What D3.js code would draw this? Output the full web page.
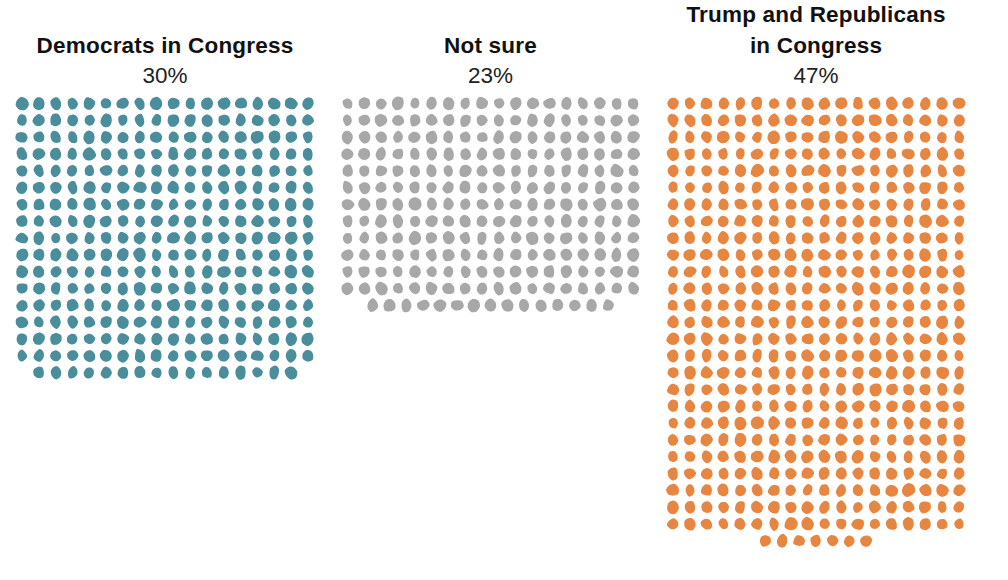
<!DOCTYPE html>
<html>
<head>
<meta charset="utf-8">
<script src="https://cdn.jsdelivr.net/npm/d3@7"></script>
<style>
  body { margin: 0; background: #fff; }
  svg { display: block; }
</style>
</head>
<body>
<svg id="chart" width="1008" height="580"></svg>
<script>
// answers, one dot per respondent
const groups = ["Democrats in Congress", "Not sure", "Trump and Republicans in Congress"];
const titleLines = [["Democrats in Congress"], ["Not sure"], ["Trump and Republicans", "in Congress"]];
const percents = [30, 23, 47];
const counts = [304, 231, 475];
const colors = ["#4a8d9b", "#a8a8a8", "#e78640"];

const cols = 18;
const step = 16.82;
const svg = d3.select("#chart");

// each panel's centre
const panelX = d3.scalePoint().domain(groups).range([165, 816]);
const rand = d3.randomLcg(0.42);

function blob(r) {
  // a rough round shape, a little lumpy
  const n = 7;
  const sx = 0.82 + rand() * 0.3, sy = 0.95 + rand() * 0.22;
  const pts = d3.range(n).map(i => {
    const a = i / n * Math.PI * 2;
    const rr = r * (0.88 + rand() * 0.24);
    return [Math.cos(a) * rr * sx, Math.sin(a) * rr * sy];
  });
  return d3.line().curve(d3.curveCardinalClosed.tension(0.1))(pts);
}

groups.forEach((g, gi) => {
  const cx = panelX(g);
  const n = counts[gi];
  const rows = Math.ceil(n / cols);
  const x = d3.scaleLinear().domain([0, cols - 1]).range([cx - step * (cols - 1) / 2, cx + step * (cols - 1) / 2]);
  const y = d3.scaleLinear().domain([0, 1]).range([103.5, 103.5 + step]);

  const dots = d3.range(n).map(i => {
    const r = Math.floor(i / cols);
    let c = i % cols;
    const inRow = r === rows - 1 ? n - r * cols : cols;
    const off = (cols - inRow) / 2;
    return { r: r, c: c + off };
  });

  const panel = svg.append("g").attr("class", "panel");

  const lines = titleLines[gi];
  panel.selectAll("text.title")
    .data(lines)
    .join("text")
    .attr("class", "title")
    .attr("x", cx)
    .attr("y", (d, i) => 53 - (lines.length - 1 - i) * 31)
    .attr("text-anchor", "middle")
    .attr("font-family", "'Liberation Sans', Arial, sans-serif")
    .attr("font-weight", "bold")
    .attr("font-size", 22.5)
    .attr("letter-spacing", 0.2)
    .attr("fill", "#111")
    .text(d => d);

  panel.append("text")
    .attr("x", cx)
    .attr("y", 83)
    .attr("text-anchor", "middle")
    .attr("font-family", "'Liberation Sans', Arial, sans-serif")
    .attr("font-size", 22.5)
    .attr("fill", "#222")
    .text(percents[gi] + "%");

  panel.selectAll("path.dot")
    .data(dots)
    .join("path")
    .attr("class", "dot")
    .attr("transform", d => `translate(${x(d.c)},${y(d.r)}) rotate(${rand() * 40 - 20})`)
    .attr("d", () => blob(5.7))
    .attr("fill", colors[gi]);
});
</script>
</body>
</html>
